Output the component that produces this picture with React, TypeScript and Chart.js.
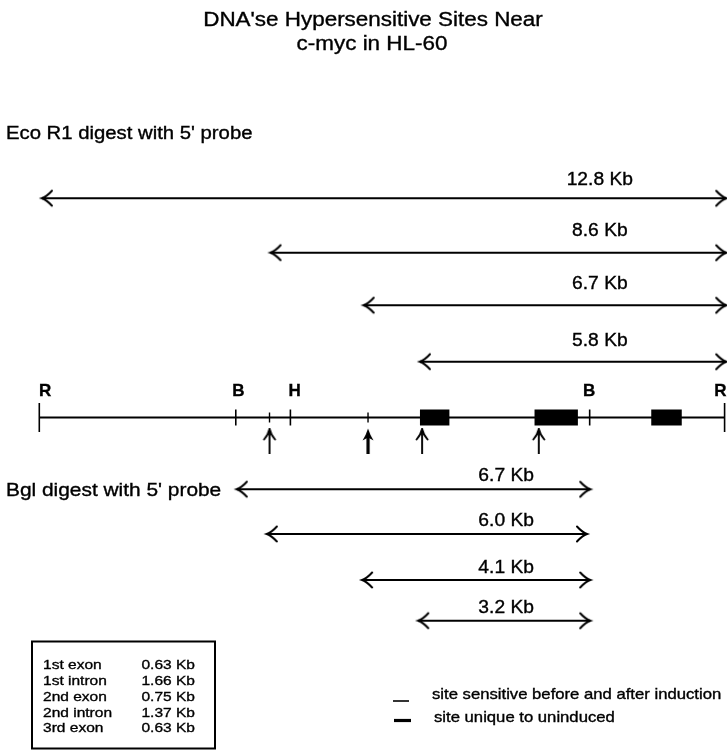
import React, { useEffect, useRef } from "react";
import { Chart, registerables } from "chart.js";

Chart.register(...registerables);

// ---------------- data ----------------
const TITLE_LINES = ["DNA'se Hypersensitive Sites Near", "c-myc in HL-60"];
const ECO_CAPTION = "Eco R1 digest with 5' probe";
const BGL_CAPTION = "Bgl digest with 5' probe";

const MAP_LENGTH = 12.8; // Kb, R to R
const SITE_LABELS = ["R", "B", "H", "B", "R"];
const SITE_POS = [0, 3.67, 4.69, 10.28, 12.8];

const EXON_START = [7.11, 9.25, 11.43];
const EXON_END = [7.66, 10.06, 12.0];

const HS_POS = [4.3, 6.14, 7.15, 9.33];
const HS_UNIQUE = [false, true, false, false];
const HS_TICK_POS = [4.3, 6.14];

const ECO_LABELS = ["12.8 Kb", "8.6 Kb", "6.7 Kb", "5.8 Kb"];
const ECO_START = [0.05, 4.32, 6.06, 7.11];
const ECO_END = [12.83, 12.83, 12.83, 12.83];

const BGL_LABELS = ["6.7 Kb", "6.0 Kb", "4.1 Kb", "3.2 Kb"];
const BGL_START = [3.69, 4.25, 6.03, 7.08];
const BGL_END = [10.29, 10.23, 10.29, 10.29];

const TABLE_NAMES = ["1st exon", "1st intron", "2nd exon", "2nd intron", "3rd exon"];
const TABLE_VALUES = ["0.63 Kb", "1.66 Kb", "0.75 Kb", "1.37 Kb", "0.63 Kb"];

const LEGEND_TEXT = ["site sensitive before and after induction", "site unique to uninduced"];

// ---------------- layout ----------------
const W = 727;
const H = 751;
const X_MIN = -0.734;
const X_MAX = 12.845;
const LAYOUT = {
  ecoY: [198.3, 252.7, 305.3, 361.7],
  ecoLabelY: [185, 236.3, 289, 345.6],
  ecoLabelX: 10.47,
  bglY: [489.3, 534, 580, 620.7],
  bglLabelY: [480.5, 526.3, 573, 613],
  bglLabelX: 8.72,
  mapY: 417.5,
  siteLabelY: 396,
  siteLabelX: [0.11, 3.72, 4.77, 10.27, 12.72],
  hsArrowY: 441,
};
const FONT = '"Liberation Sans", Arial, Helvetica, sans-serif';

function makeHead(): HTMLCanvasElement {
  const c = document.createElement("canvas");
  c.width = 28;
  c.height = 20;
  const g = c.getContext("2d")!;
  g.strokeStyle = "#000";
  g.fillStyle = "#000";
  g.lineWidth = 2;
  g.lineCap = "round";
  g.beginPath();
  g.moveTo(4, 2.5);
  g.quadraticCurveTo(9.5, 8.5, 14, 10);
  g.quadraticCurveTo(9.5, 11.5, 4, 17.5);
  g.stroke();
  g.beginPath();
  g.moveTo(14.5, 10);
  g.lineTo(10, 8);
  g.lineTo(10, 12);
  g.closePath();
  g.fill();
  return c;
}

function makeSiteArrow(bold: boolean): HTMLCanvasElement {
  const c = document.createElement("canvas");
  c.width = 18;
  c.height = 26;
  const g = c.getContext("2d")!;
  g.strokeStyle = "#000";
  g.fillStyle = "#000";
  g.lineCap = "butt";
  if (bold) {
    g.lineWidth = 3.2;
    g.beginPath();
    g.moveTo(9, 6);
    g.lineTo(9, 26);
    g.stroke();
    g.beginPath();
    g.moveTo(9, 0.5);
    g.quadraticCurveTo(7, 7, 3.5, 12.5);
    g.lineTo(9, 9.5);
    g.lineTo(14.5, 12.5);
    g.quadraticCurveTo(11, 7, 9, 0.5);
    g.fill();
  } else {
    g.lineWidth = 1.9;
    g.beginPath();
    g.moveTo(9, 2);
    g.lineTo(9, 26);
    g.stroke();
    g.lineCap = "round";
    g.beginPath();
    g.moveTo(3.5, 11.5);
    g.quadraticCurveTo(8, 6, 9, 1);
    g.quadraticCurveTo(10, 6, 14.5, 11.5);
    g.stroke();
  }
  return c;
}

function drawText(
  ctx: CanvasRenderingContext2D,
  s: string,
  x: number,
  y: number,
  size: number,
  opts: { bold?: boolean; align?: "left" | "center" | "right"; stretch?: number } = {}
) {
  const stretch = opts.stretch ?? 1;
  ctx.save();
  ctx.font = `${opts.bold ? "bold " : ""}${size}px ${FONT}`;
  ctx.textBaseline = "alphabetic";
  ctx.textAlign = "left";
  ctx.fillStyle = "#000";
  ctx.strokeStyle = "#000";
  ctx.lineWidth = 0.35;
  const w = ctx.measureText(s).width * stretch;
  const left = opts.align === "center" ? x - w / 2 : opts.align === "right" ? x - w : x;
  ctx.translate(left, y);
  ctx.scale(stretch, 1);
  ctx.fillText(s, 0, 0);
  ctx.strokeText(s, 0, 0);
  ctx.restore();
}

const textPlugin = {
  id: "diagramText",
  afterDraw(chart: any) {
    const ctx: CanvasRenderingContext2D = chart.ctx;
    const xs = chart.scales.x;
    const ys = chart.scales.y;
    const px = (v: number) => xs.getPixelForValue(v);
    const py = (v: number) => ys.getPixelForValue(v);

    // title
    drawText(ctx, TITLE_LINES[0], 373, 25.7, 19.5, { align: "center", stretch: 1.15 });
    drawText(ctx, TITLE_LINES[1], 372, 50, 19.5, { align: "center", stretch: 1.15 });

    // captions
    drawText(ctx, ECO_CAPTION, 6, 139, 17.5, { stretch: 1.16 });
    drawText(ctx, BGL_CAPTION, 6, 495.5, 18, { stretch: 1.16 });

    // fragment labels
    ECO_LABELS.forEach((t, i) =>
      drawText(ctx, t, px(LAYOUT.ecoLabelX), py(LAYOUT.ecoLabelY[i]), 17.5, { align: "center", stretch: 1.1 })
    );
    BGL_LABELS.forEach((t, i) =>
      drawText(ctx, t, px(LAYOUT.bglLabelX), py(LAYOUT.bglLabelY[i]), 17.5, { align: "center", stretch: 1.1 })
    );

    // restriction site letters
    SITE_LABELS.forEach((t, i) =>
      drawText(ctx, t, px(LAYOUT.siteLabelX[i]), py(LAYOUT.siteLabelY), 17, { bold: true, align: "center" })
    );

    // exon/intron table box
    ctx.save();
    ctx.strokeStyle = "#000";
    ctx.lineWidth = 2;
    ctx.strokeRect(32, 641.5, 183, 107);
    ctx.restore();
    const rowBase = [669, 685, 701, 716.5, 732];
    TABLE_NAMES.forEach((t, i) => drawText(ctx, t, 43, rowBase[i], 13.5, { stretch: 1.15 }));
    TABLE_VALUES.forEach((t, i) => drawText(ctx, t, 195, rowBase[i], 13.5, { align: "right", stretch: 1.15 }));

    // legend
    ctx.save();
    ctx.strokeStyle = "#000";
    ctx.lineWidth = 1.6;
    ctx.beginPath();
    ctx.moveTo(393, 701);
    ctx.lineTo(409, 701);
    ctx.stroke();
    ctx.lineWidth = 3.2;
    ctx.beginPath();
    ctx.moveTo(394, 720.5);
    ctx.lineTo(411, 720.5);
    ctx.stroke();
    ctx.restore();
    drawText(ctx, LEGEND_TEXT[0], 432, 698.5, 14.5, { stretch: 1.15 });
    drawText(ctx, LEGEND_TEXT[1], 434, 721.5, 14.5, { stretch: 1.15 });
  },
};

export default function App() {
  const ref = useRef<HTMLCanvasElement | null>(null);

  useEffect(() => {
    if (!ref.current) return;
    const head = makeHead();
    const thinArrow = makeSiteArrow(false);
    const boldArrow = makeSiteArrow(true);

    const arrowDataset = (start: number, end: number, y: number) => ({
      type: "scatter" as const,
      data: [
        { x: start, y },
        { x: end, y },
      ],
      showLine: true,
      borderColor: "#000",
      borderWidth: 2,
      pointStyle: [head, head] as any,
      pointRotation: [180, 0],
      pointRadius: 10,
      clip: false as any,
    });

    const datasets: any[] = [];

    ECO_START.forEach((s, i) => datasets.push(arrowDataset(s, ECO_END[i], LAYOUT.ecoY[i])));
    BGL_START.forEach((s, i) => datasets.push(arrowDataset(s, BGL_END[i], LAYOUT.bglY[i])));

    // map backbone
    datasets.push({
      data: [
        { x: 0, y: LAYOUT.mapY },
        { x: MAP_LENGTH, y: LAYOUT.mapY },
      ],
      showLine: true,
      borderColor: "#000",
      borderWidth: 1.8,
      pointRadius: 0,
      clip: false,
    });

    // exons
    EXON_START.forEach((s, i) =>
      datasets.push({
        data: [
          { x: s, y: LAYOUT.mapY },
          { x: EXON_END[i], y: LAYOUT.mapY },
        ],
        showLine: true,
        borderColor: "#000",
        borderWidth: 16,
        borderCapStyle: "butt",
        pointRadius: 0,
        clip: false,
      })
    );

    // restriction site ticks
    datasets.push({
      data: SITE_POS.map((x) => ({ x, y: LAYOUT.mapY })),
      showLine: false,
      pointStyle: "line",
      pointRotation: 90,
      pointRadius: SITE_LABELS.map((l) => (l === "R" ? 14.5 : 8)),
      pointBorderColor: "#000",
      pointBorderWidth: 1.6,
      clip: false,
    });

    // hypersensitive site ticks
    datasets.push({
      data: HS_TICK_POS.map((x) => ({ x, y: LAYOUT.mapY })),
      showLine: false,
      pointStyle: "line",
      pointRotation: 90,
      pointRadius: 5,
      pointBorderColor: "#000",
      pointBorderWidth: 1.4,
      clip: false,
    });

    // hypersensitive site arrows
    datasets.push({
      data: HS_POS.map((x) => ({ x, y: LAYOUT.hsArrowY })),
      showLine: false,
      pointStyle: HS_UNIQUE.map((u) => (u ? boldArrow : thinArrow)),
      pointRadius: 12,
      clip: false,
    });

    const chart = new Chart(ref.current, {
      type: "scatter",
      data: { datasets },
      options: {
        animation: false,
        responsive: false,
        events: [],
        layout: { padding: 0, autoPadding: false },
        plugins: {
          legend: { display: false },
          tooltip: { enabled: false },
          title: { display: false },
        },
        scales: {
          x: { type: "linear", display: false, min: X_MIN, max: X_MAX },
          y: { type: "linear", display: false, min: 0, max: H, reverse: true },
        },
      },
      plugins: [textPlugin],
    } as any);

    return () => chart.destroy();
  }, []);

  return (
    <div style={{ position: "absolute", left: 0, top: 0, width: W, height: H, background: "#fff" }}>
      <canvas ref={ref} width={W} height={H} style={{ display: "block", width: W, height: H }} />
    </div>
  );
}
